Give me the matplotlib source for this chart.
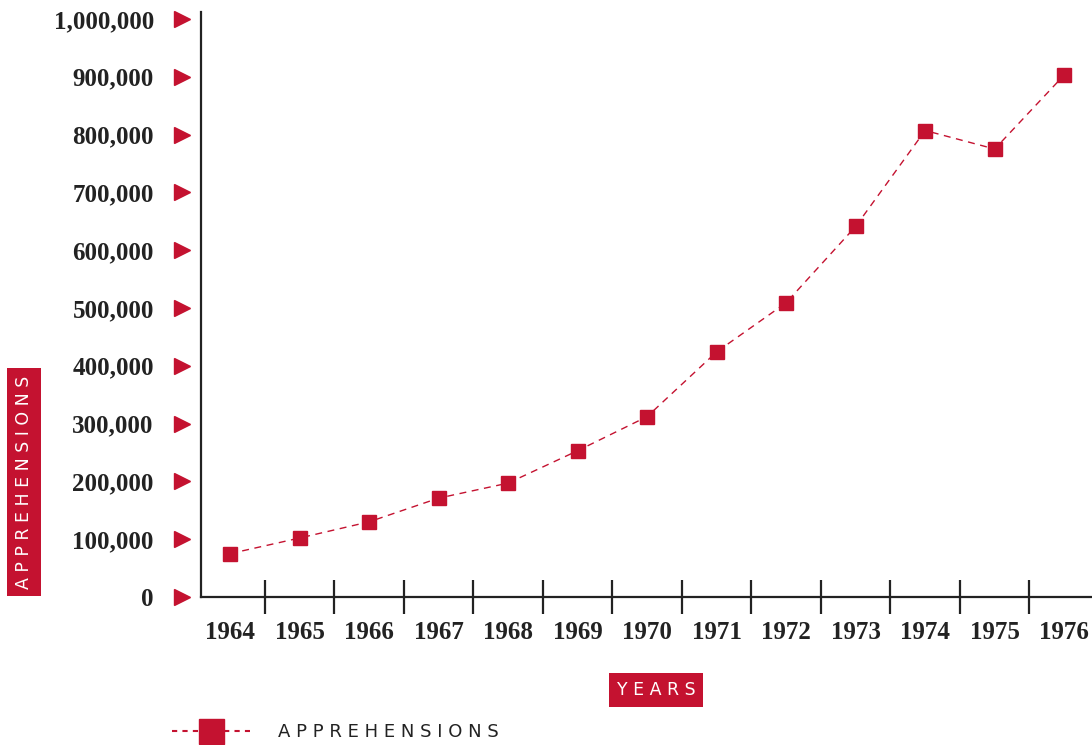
import numpy as np
import matplotlib.pyplot as plt
from matplotlib.lines import Line2D
import matplotlib.transforms as mtransforms

RED = '#c41230'
DARK = '#222222'

years = ['1964', '1965', '1966', '1967', '1968', '1969', '1970',
         '1971', '1972', '1973', '1974', '1975', '1976']
apprehensions = [75000, 102000, 130000, 171000, 197000, 253000, 312000,
                 424000, 509000, 641000, 807000, 775000, 903000]
y_ticks = [0, 100000, 200000, 300000, 400000, 500000, 600000,
           700000, 800000, 900000, 1000000]

fig = plt.figure(figsize=(10.92, 7.45), dpi=100)
ax = fig.add_axes([201/1092, 1 - 597/745, 891/1092, 585/745])

x = np.arange(len(years))
ax.plot(x, apprehensions, color=RED, lw=1, ls=(0, (5, 4)),
        marker='s', ms=10.5, mfc=RED, mec=RED, clip_on=False, zorder=3)

ax.set_xlim(-0.417, 12.4)
ax.set_ylim(0, 1.012e6)

for s in ['top', 'right']:
    ax.spines[s].set_visible(False)
for s in ['left', 'bottom']:
    ax.spines[s].set_color(DARK)
    ax.spines[s].set_linewidth(1.6)

# year labels at points, separator ticks between years
ax.set_xticks(x)
ax.set_xticklabels(years)
ax.set_xticks(x[:-1] + 0.5, minor=True)
ax.tick_params(axis='x', which='major', length=0, pad=17)
ax.tick_params(axis='x', which='minor', direction='inout', length=24,
               width=1.6, color=DARK)

serif = dict(family='Liberation Serif', size=18, weight='bold', color=DARK)
for lab in ax.get_xticklabels():
    lab.set(**serif)

ax.set_yticks(y_ticks)
ax.set_yticklabels(['{:,}'.format(v) for v in y_ticks])
ax.tick_params(axis='y', length=0, pad=34)
for lab in ax.get_yticklabels():
    lab.set(**serif)

# red arrow markers in place of y ticks
trans = mtransforms.blended_transform_factory(ax.transAxes, ax.transData)
ax.plot([-0.0213] * len(y_ticks), y_ticks, ls='none', marker='>', ms=12,
        color=RED, transform=trans, clip_on=False)

label_font = dict(family='DejaVu Sans', size=12.5, color='white')
fig.text(24/1092, 1 - 482/745, 'A P P R E H E N S I O N S', rotation=90,
         ha='center', va='center', **label_font,
         bbox=dict(boxstyle='square,pad=0.45', fc=RED, ec='none'))
fig.text(656/1092, 1 - 690/745, 'Y E A R S', ha='center', va='center',
         **label_font,
         bbox=dict(boxstyle='square,pad=0.45', fc=RED, ec='none'))

handle = Line2D([], [], color=RED, lw=1.5, ls=(0, (2.5, 2.5)), marker='s',
                ms=18, mfc=RED, mec=RED)
fig.legend([handle], ['A P P R E H E N S I O N S'], loc='center left',
           bbox_to_anchor=(172/1092, 1 - 732/745), frameon=False,
           borderpad=0, borderaxespad=0,
           handlelength=4.3, handletextpad=1.55,
           prop=dict(family='DejaVu Sans', size=13))
leg_txt = fig.legends[0].get_texts()[0]
leg_txt.set_color(DARK)

fig.savefig('out.png', dpi=100)
